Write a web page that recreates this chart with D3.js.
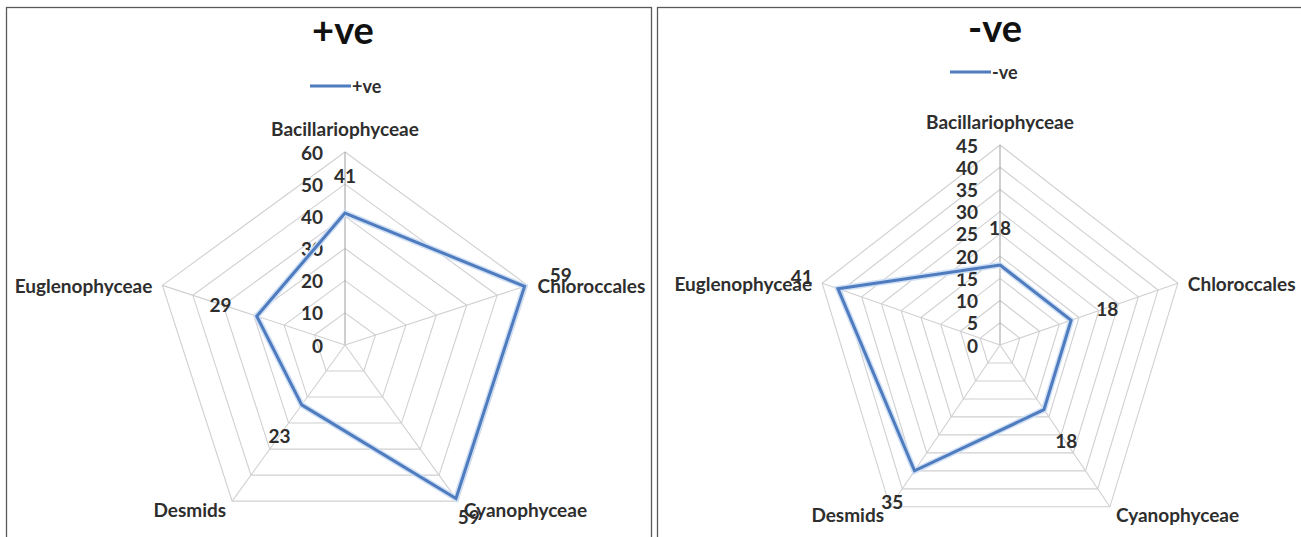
<!DOCTYPE html>
<html>
<head>
<meta charset="utf-8">
<script src="https://cdn.jsdelivr.net/npm/d3@7"></script>
<style>
  body { margin: 0; background: #fff; }
  svg { display: block; }
  text { font-family: Lato, "Open Sans", sans-serif; }
</style>
</head>
<body>
<svg id="chart" width="1301" height="537"></svg>
<script>
// Phytoplankton groups on each radar axis
const categories = ["Bacillariophyceae", "Chloroccales", "Cyanophyceae", "Desmids", "Euglenophyceae"];

// Counts per group
const positiveValues = [41, 59, 59, 23, 29];
const negativeValues = [18, 18, 18, 35, 41];

// Radial tick labels
const positiveTicks = [0, 10, 20, 30, 40, 50, 60];
const negativeTicks = [0, 5, 10, 15, 20, 25, 30, 35, 40, 45];

// Series names (title and legend)
const seriesNames = ["+ve", "-ve"];

const panels = [
  { name: seriesNames[0], values: positiveValues, ticks: positiveTicks,
    frame: { x: 6.5, y: 7.5, w: 645, h: 560 },
    cx: 345, cy: 345, rx: 192, ry: 193,
    titleX: 343, titleY: 29, legendX: 310, legendY: 86 },
  { name: seriesNames[1], values: negativeValues, ticks: negativeTicks,
    frame: { x: 657.5, y: 7.5, w: 660, h: 560 },
    cx: 1000, cy: 345, rx: 187, ry: 200,
    titleX: 995, titleY: 27, legendX: 950, legendY: 72 }
];

const svg = d3.select("#chart");
const lineColor = "#4f7bbf";
const textColor = "#2e2e2e";
const n = categories.length;

function drawPanel(p) {
  const g = svg.append("g");
  const max = d3.max(p.ticks);
  const r = d3.scaleLinear().domain([0, max]).range([0, 1]);
  const angle = d3.scaleLinear().domain([0, n]).range([0, 2 * Math.PI]);
  const dir = i => [Math.sin(angle(i)), -Math.cos(angle(i))];
  const pt = (i, v) => {
    const [sx, sy] = dir(i);
    return [p.cx + p.rx * r(v) * sx, p.cy + p.ry * r(v) * sy];
  };

  // frame
  g.append("rect")
    .attr("x", p.frame.x).attr("y", p.frame.y)
    .attr("width", p.frame.w).attr("height", p.frame.h)
    .attr("fill", "none").attr("stroke", "#5a5a5a").attr("stroke-width", 1.3);

  // rings
  const ring = d3.line();
  p.ticks.filter(t => t > 0).forEach(t => {
    const pts = d3.range(n).map(i => pt(i, t));
    g.append("path")
      .attr("d", ring(pts) + "Z")
      .attr("fill", "none").attr("stroke", "#d0d0d0").attr("stroke-width", 1.1);
  });

  // spokes
  d3.range(n).forEach(i => {
    const [x2, y2] = pt(i, max);
    g.append("line")
      .attr("x1", p.cx).attr("y1", p.cy).attr("x2", x2).attr("y2", y2)
      .attr("stroke", i === 0 ? "#a8a8a8" : "#d0d0d0").attr("stroke-width", 1.1);
  });

  // radial tick labels along the first axis
  g.selectAll(".tick").data(p.ticks).join("text")
    .attr("x", p.cx - 22)
    .attr("y", d => pt(0, d)[1])
    .attr("text-anchor", "end").attr("dominant-baseline", "central")
    .attr("font-size", 19).attr("font-weight", "bold").attr("fill", textColor)
    .text(d => d);

  // series polygon
  const pts = p.values.map((v, i) => pt(i, v));
  g.append("path")
    .attr("d", ring(pts) + "Z")
    .attr("fill", "none").attr("stroke", "#cfe0f4").attr("stroke-width", 6)
    .attr("stroke-linejoin", "miter");
  g.append("path")
    .attr("d", ring(pts) + "Z")
    .attr("fill", "none").attr("stroke", lineColor).attr("stroke-width", 3)
    .attr("stroke-linejoin", "miter");

  // category labels
  categories.forEach((c, i) => {
    const [vx, vy] = pt(i, max);
    const [sx, sy] = dir(i);
    let x = vx, y = vy, anchor = "middle";
    if (Math.abs(sx) < 0.1) {
      y = vy - 24;
    } else {
      anchor = sx > 0 ? "start" : "end";
      const side = sx > 0 ? 1 : -1;
      x = vx + side * (sy > 0 ? 6 : 10);
      y = vy + (sy > 0 ? 8 : 0);
    }
    g.append("text")
      .attr("x", x).attr("y", y)
      .attr("text-anchor", anchor).attr("dominant-baseline", "central")
      .attr("font-size", 19).attr("font-weight", "bold").attr("fill", textColor)
      .text(c);
  });

  // value labels, pushed outward from each point
  const yLimit = 516;
  p.values.forEach((v, i) => {
    const [px, py] = pt(i, v);
    const [sx, sy] = dir(i);
    let off = 38;
    if (py + sy * off > yLimit) off = (yLimit - py) / sy;
    g.append("text")
      .attr("x", px + sx * off).attr("y", py + sy * off)
      .attr("text-anchor", "middle").attr("dominant-baseline", "central")
      .attr("font-size", 19).attr("font-weight", "bold").attr("fill", textColor)
      .text(v);
  });

  // title
  g.append("text")
    .attr("x", p.titleX).attr("y", p.titleY)
    .attr("text-anchor", "middle").attr("dominant-baseline", "central")
    .attr("font-size", 38).attr("font-weight", "bold").attr("fill", "#111")
    .text(p.name);

  // legend
  g.append("line")
    .attr("x1", p.legendX).attr("x2", p.legendX + 41)
    .attr("y1", p.legendY).attr("y2", p.legendY)
    .attr("stroke", lineColor).attr("stroke-width", 3);
  g.append("text")
    .attr("x", p.legendX + 42).attr("y", p.legendY)
    .attr("dominant-baseline", "central")
    .attr("font-size", 18).attr("font-weight", "bold").attr("fill", textColor)
    .text(p.name);
}

panels.forEach(drawPanel);
</script>
</body>
</html>
